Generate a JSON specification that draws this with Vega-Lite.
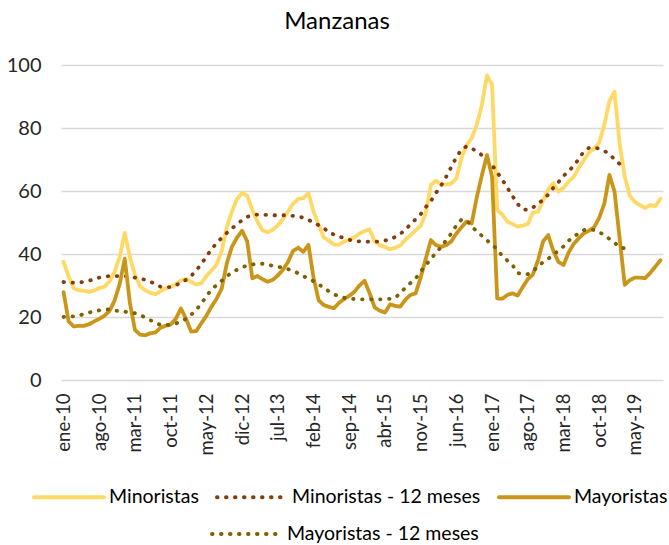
{
"$schema": "https://vega.github.io/schema/vega-lite/v6.json",
"width": 602, "height": 315,
"autosize": {"type": "none"},
"padding": {"left": 61, "top": 65, "right": 6, "bottom": 165},
"background": "white",
"title": {"text": "Manzanas", "font": "Lato", "fontSize": 24, "fontWeight": "normal", "color": "#000000", "anchor": "middle", "frame": "group", "dx": -25, "offset": 21},
"config": {"view": {"stroke": null}, "font": "Lato"},
"data": {"values": [
{"mes":"ene-10","Minoristas":37.5,"Minoristas - 12 meses":31.1,"Mayoristas":27.9,"Mayoristas - 12 meses":20},
{"mes":"feb-10","Minoristas":32.8,"Minoristas - 12 meses":30.9,"Mayoristas":18.6,"Mayoristas - 12 meses":20.1},
{"mes":"mar-10","Minoristas":29.1,"Minoristas - 12 meses":30.9,"Mayoristas":17,"Mayoristas - 12 meses":20.2},
{"mes":"abr-10","Minoristas":28.5,"Minoristas - 12 meses":30.9,"Mayoristas":17.2,"Mayoristas - 12 meses":20.4},
{"mes":"may-10","Minoristas":28.3,"Minoristas - 12 meses":31.2,"Mayoristas":17.2,"Mayoristas - 12 meses":21},
{"mes":"jun-10","Minoristas":28,"Minoristas - 12 meses":31.5,"Mayoristas":17.7,"Mayoristas - 12 meses":21.4},
{"mes":"jul-10","Minoristas":28.4,"Minoristas - 12 meses":32,"Mayoristas":18.6,"Mayoristas - 12 meses":21.8},
{"mes":"ago-10","Minoristas":29.2,"Minoristas - 12 meses":32.5,"Mayoristas":19.4,"Mayoristas - 12 meses":22.1},
{"mes":"sep-10","Minoristas":29.6,"Minoristas - 12 meses":32.8,"Mayoristas":20.4,"Mayoristas - 12 meses":22.4},
{"mes":"oct-10","Minoristas":31.3,"Minoristas - 12 meses":33,"Mayoristas":21.9,"Mayoristas - 12 meses":22.4},
{"mes":"nov-10","Minoristas":34.3,"Minoristas - 12 meses":33,"Mayoristas":25.2,"Mayoristas - 12 meses":22.1},
{"mes":"dic-10","Minoristas":39,"Minoristas - 12 meses":33,"Mayoristas":30.5,"Mayoristas - 12 meses":21.8},
{"mes":"ene-11","Minoristas":46.7,"Minoristas - 12 meses":33,"Mayoristas":38.5,"Mayoristas - 12 meses":21.7},
{"mes":"feb-11","Minoristas":39,"Minoristas - 12 meses":32.8,"Mayoristas":24.5,"Mayoristas - 12 meses":21.4},
{"mes":"mar-11","Minoristas":33.4,"Minoristas - 12 meses":32.5,"Mayoristas":15.9,"Mayoristas - 12 meses":21.2},
{"mes":"abr-11","Minoristas":29.8,"Minoristas - 12 meses":32.2,"Mayoristas":14.4,"Mayoristas - 12 meses":20.6},
{"mes":"may-11","Minoristas":28.5,"Minoristas - 12 meses":31.8,"Mayoristas":14.2,"Mayoristas - 12 meses":19.9},
{"mes":"jun-11","Minoristas":27.7,"Minoristas - 12 meses":31.2,"Mayoristas":14.8,"Mayoristas - 12 meses":19},
{"mes":"jul-11","Minoristas":27.2,"Minoristas - 12 meses":30.5,"Mayoristas":15.1,"Mayoristas - 12 meses":18.2},
{"mes":"ago-11","Minoristas":28.2,"Minoristas - 12 meses":29.6,"Mayoristas":16.6,"Mayoristas - 12 meses":17.5},
{"mes":"sep-11","Minoristas":29.1,"Minoristas - 12 meses":29.5,"Mayoristas":17.2,"Mayoristas - 12 meses":17.4},
{"mes":"oct-11","Minoristas":29.6,"Minoristas - 12 meses":29.5,"Mayoristas":17.6,"Mayoristas - 12 meses":17.6},
{"mes":"nov-11","Minoristas":30.4,"Minoristas - 12 meses":30.1,"Mayoristas":19.4,"Mayoristas - 12 meses":17.9},
{"mes":"dic-11","Minoristas":31.6,"Minoristas - 12 meses":30.9,"Mayoristas":22.7,"Mayoristas - 12 meses":18.6},
{"mes":"ene-12","Minoristas":32.1,"Minoristas - 12 meses":31.8,"Mayoristas":19.5,"Mayoristas - 12 meses":19.4},
{"mes":"feb-12","Minoristas":31.2,"Minoristas - 12 meses":33,"Mayoristas":15.4,"Mayoristas - 12 meses":20.7},
{"mes":"mar-12","Minoristas":30.3,"Minoristas - 12 meses":34.8,"Mayoristas":15.5,"Mayoristas - 12 meses":22.2},
{"mes":"abr-12","Minoristas":30.7,"Minoristas - 12 meses":36.8,"Mayoristas":18,"Mayoristas - 12 meses":24.3},
{"mes":"may-12","Minoristas":33,"Minoristas - 12 meses":39.2,"Mayoristas":20.4,"Mayoristas - 12 meses":26.5},
{"mes":"jun-12","Minoristas":34.8,"Minoristas - 12 meses":41.5,"Mayoristas":23.3,"Mayoristas - 12 meses":28.8},
{"mes":"jul-12","Minoristas":36.6,"Minoristas - 12 meses":43.5,"Mayoristas":25.8,"Mayoristas - 12 meses":30.1},
{"mes":"ago-12","Minoristas":41,"Minoristas - 12 meses":45.1,"Mayoristas":29,"Mayoristas - 12 meses":31.5},
{"mes":"sep-12","Minoristas":48.5,"Minoristas - 12 meses":46.7,"Mayoristas":37,"Mayoristas - 12 meses":32.9},
{"mes":"oct-12","Minoristas":53.5,"Minoristas - 12 meses":48.1,"Mayoristas":42.3,"Mayoristas - 12 meses":34.2},
{"mes":"nov-12","Minoristas":57.5,"Minoristas - 12 meses":49.5,"Mayoristas":45.2,"Mayoristas - 12 meses":35},
{"mes":"dic-12","Minoristas":59.4,"Minoristas - 12 meses":50.7,"Mayoristas":47.4,"Mayoristas - 12 meses":35.7},
{"mes":"ene-13","Minoristas":58.5,"Minoristas - 12 meses":51.8,"Mayoristas":44,"Mayoristas - 12 meses":36.4},
{"mes":"feb-13","Minoristas":54,"Minoristas - 12 meses":52.4,"Mayoristas":32.3,"Mayoristas - 12 meses":36.7},
{"mes":"mar-13","Minoristas":50.3,"Minoristas - 12 meses":52.5,"Mayoristas":33,"Mayoristas - 12 meses":36.9},
{"mes":"abr-13","Minoristas":47.5,"Minoristas - 12 meses":52.5,"Mayoristas":32,"Mayoristas - 12 meses":36.9},
{"mes":"may-13","Minoristas":46.9,"Minoristas - 12 meses":52.4,"Mayoristas":31.2,"Mayoristas - 12 meses":36.7},
{"mes":"jun-13","Minoristas":47.7,"Minoristas - 12 meses":52.3,"Mayoristas":31.8,"Mayoristas - 12 meses":36.2},
{"mes":"jul-13","Minoristas":49.1,"Minoristas - 12 meses":52.3,"Mayoristas":33.2,"Mayoristas - 12 meses":35.9},
{"mes":"ago-13","Minoristas":51.1,"Minoristas - 12 meses":52.3,"Mayoristas":35,"Mayoristas - 12 meses":35.7},
{"mes":"sep-13","Minoristas":53.5,"Minoristas - 12 meses":52.3,"Mayoristas":37.5,"Mayoristas - 12 meses":35.2},
{"mes":"oct-13","Minoristas":56,"Minoristas - 12 meses":52.1,"Mayoristas":41,"Mayoristas - 12 meses":34.6},
{"mes":"nov-13","Minoristas":57.5,"Minoristas - 12 meses":51.9,"Mayoristas":42,"Mayoristas - 12 meses":33.9},
{"mes":"dic-13","Minoristas":57.7,"Minoristas - 12 meses":51.5,"Mayoristas":40.7,"Mayoristas - 12 meses":33},
{"mes":"ene-14","Minoristas":59.3,"Minoristas - 12 meses":50.8,"Mayoristas":42.9,"Mayoristas - 12 meses":32.2},
{"mes":"feb-14","Minoristas":53.5,"Minoristas - 12 meses":50.1,"Mayoristas":32.5,"Mayoristas - 12 meses":31.4},
{"mes":"mar-14","Minoristas":49.3,"Minoristas - 12 meses":49.1,"Mayoristas":25.3,"Mayoristas - 12 meses":30.4},
{"mes":"abr-14","Minoristas":45.3,"Minoristas - 12 meses":48.3,"Mayoristas":23.8,"Mayoristas - 12 meses":29.2},
{"mes":"may-14","Minoristas":44.2,"Minoristas - 12 meses":46.8,"Mayoristas":23.2,"Mayoristas - 12 meses":28.2},
{"mes":"jun-14","Minoristas":43,"Minoristas - 12 meses":46.2,"Mayoristas":22.8,"Mayoristas - 12 meses":27.2},
{"mes":"jul-14","Minoristas":43,"Minoristas - 12 meses":45.6,"Mayoristas":24.5,"Mayoristas - 12 meses":26.6},
{"mes":"ago-14","Minoristas":43.9,"Minoristas - 12 meses":45,"Mayoristas":25.7,"Mayoristas - 12 meses":26.1},
{"mes":"sep-14","Minoristas":44.6,"Minoristas - 12 meses":44.5,"Mayoristas":26.7,"Mayoristas - 12 meses":25.8},
{"mes":"oct-14","Minoristas":45.3,"Minoristas - 12 meses":44.2,"Mayoristas":28,"Mayoristas - 12 meses":25.7},
{"mes":"nov-14","Minoristas":46.5,"Minoristas - 12 meses":44,"Mayoristas":30,"Mayoristas - 12 meses":25.6},
{"mes":"dic-14","Minoristas":47.3,"Minoristas - 12 meses":43.9,"Mayoristas":31.5,"Mayoristas - 12 meses":25.6},
{"mes":"ene-15","Minoristas":47.8,"Minoristas - 12 meses":43.9,"Mayoristas":27.5,"Mayoristas - 12 meses":25.6},
{"mes":"feb-15","Minoristas":44,"Minoristas - 12 meses":43.9,"Mayoristas":23,"Mayoristas - 12 meses":25.6},
{"mes":"mar-15","Minoristas":42.8,"Minoristas - 12 meses":44,"Mayoristas":22,"Mayoristas - 12 meses":25.6},
{"mes":"abr-15","Minoristas":42.2,"Minoristas - 12 meses":44.3,"Mayoristas":21.4,"Mayoristas - 12 meses":25.6},
{"mes":"may-15","Minoristas":41.5,"Minoristas - 12 meses":44.6,"Mayoristas":24,"Mayoristas - 12 meses":25.8},
{"mes":"jun-15","Minoristas":42,"Minoristas - 12 meses":45.4,"Mayoristas":23.5,"Mayoristas - 12 meses":26.1},
{"mes":"jul-15","Minoristas":42.7,"Minoristas - 12 meses":46.4,"Mayoristas":23.3,"Mayoristas - 12 meses":27.6},
{"mes":"ago-15","Minoristas":44.5,"Minoristas - 12 meses":47.6,"Mayoristas":25.5,"Mayoristas - 12 meses":29.3},
{"mes":"sep-15","Minoristas":46,"Minoristas - 12 meses":49.5,"Mayoristas":27,"Mayoristas - 12 meses":30.8},
{"mes":"oct-15","Minoristas":47.5,"Minoristas - 12 meses":51,"Mayoristas":27.5,"Mayoristas - 12 meses":32.2},
{"mes":"nov-15","Minoristas":48.9,"Minoristas - 12 meses":52.6,"Mayoristas":32.5,"Mayoristas - 12 meses":34.4},
{"mes":"dic-15","Minoristas":53,"Minoristas - 12 meses":54.9,"Mayoristas":38.5,"Mayoristas - 12 meses":36.5},
{"mes":"ene-16","Minoristas":61.9,"Minoristas - 12 meses":56.8,"Mayoristas":44.4,"Mayoristas - 12 meses":38.4},
{"mes":"feb-16","Minoristas":63.3,"Minoristas - 12 meses":59.4,"Mayoristas":42.8,"Mayoristas - 12 meses":40.4},
{"mes":"mar-16","Minoristas":62,"Minoristas - 12 meses":61.7,"Mayoristas":42.3,"Mayoristas - 12 meses":42.2},
{"mes":"abr-16","Minoristas":62,"Minoristas - 12 meses":64.5,"Mayoristas":42.8,"Mayoristas - 12 meses":44.4},
{"mes":"may-16","Minoristas":62.4,"Minoristas - 12 meses":67.6,"Mayoristas":44,"Mayoristas - 12 meses":46.5},
{"mes":"jun-16","Minoristas":64,"Minoristas - 12 meses":70.7,"Mayoristas":46.5,"Mayoristas - 12 meses":49.1},
{"mes":"jul-16","Minoristas":70.5,"Minoristas - 12 meses":73.2,"Mayoristas":48.5,"Mayoristas - 12 meses":50.9},
{"mes":"ago-16","Minoristas":74.5,"Minoristas - 12 meses":74.2,"Mayoristas":50.3,"Mayoristas - 12 meses":50.7},
{"mes":"sep-16","Minoristas":76.7,"Minoristas - 12 meses":73.5,"Mayoristas":49.7,"Mayoristas - 12 meses":48.7},
{"mes":"oct-16","Minoristas":81,"Minoristas - 12 meses":72.6,"Mayoristas":58,"Mayoristas - 12 meses":47.2},
{"mes":"nov-16","Minoristas":87.3,"Minoristas - 12 meses":71.4,"Mayoristas":65,"Mayoristas - 12 meses":45.8},
{"mes":"dic-16","Minoristas":96.7,"Minoristas - 12 meses":70,"Mayoristas":71.4,"Mayoristas - 12 meses":44.3},
{"mes":"ene-17","Minoristas":93.7,"Minoristas - 12 meses":68.2,"Mayoristas":64.5,"Mayoristas - 12 meses":43},
{"mes":"feb-17","Minoristas":54,"Minoristas - 12 meses":65.9,"Mayoristas":25.9,"Mayoristas - 12 meses":41.5},
{"mes":"mar-17","Minoristas":52.5,"Minoristas - 12 meses":63.6,"Mayoristas":25.8,"Mayoristas - 12 meses":39.4},
{"mes":"abr-17","Minoristas":50.3,"Minoristas - 12 meses":61,"Mayoristas":27,"Mayoristas - 12 meses":37.9},
{"mes":"may-17","Minoristas":49.5,"Minoristas - 12 meses":58.4,"Mayoristas":27.5,"Mayoristas - 12 meses":36.5},
{"mes":"jun-17","Minoristas":48.7,"Minoristas - 12 meses":55.9,"Mayoristas":26.8,"Mayoristas - 12 meses":34},
{"mes":"jul-17","Minoristas":49,"Minoristas - 12 meses":54.2,"Mayoristas":29.5,"Mayoristas - 12 meses":33.5},
{"mes":"ago-17","Minoristas":49.5,"Minoristas - 12 meses":54,"Mayoristas":32,"Mayoristas - 12 meses":33.6},
{"mes":"sep-17","Minoristas":53.2,"Minoristas - 12 meses":54.7,"Mayoristas":33.5,"Mayoristas - 12 meses":34.6},
{"mes":"oct-17","Minoristas":53.4,"Minoristas - 12 meses":56.1,"Mayoristas":38,"Mayoristas - 12 meses":35.9},
{"mes":"nov-17","Minoristas":57,"Minoristas - 12 meses":57.1,"Mayoristas":44,"Mayoristas - 12 meses":37.5},
{"mes":"dic-17","Minoristas":60.5,"Minoristas - 12 meses":58.9,"Mayoristas":46,"Mayoristas - 12 meses":38.5},
{"mes":"ene-18","Minoristas":62.5,"Minoristas - 12 meses":61,"Mayoristas":41,"Mayoristas - 12 meses":39.7},
{"mes":"feb-18","Minoristas":59.8,"Minoristas - 12 meses":62.8,"Mayoristas":37.5,"Mayoristas - 12 meses":41.1},
{"mes":"mar-18","Minoristas":61,"Minoristas - 12 meses":64.8,"Mayoristas":36.5,"Mayoristas - 12 meses":42.4},
{"mes":"abr-18","Minoristas":63,"Minoristas - 12 meses":66.3,"Mayoristas":40.5,"Mayoristas - 12 meses":44.2},
{"mes":"may-18","Minoristas":64.5,"Minoristas - 12 meses":68,"Mayoristas":43.2,"Mayoristas - 12 meses":45.5},
{"mes":"jun-18","Minoristas":67.4,"Minoristas - 12 meses":70.2,"Mayoristas":45,"Mayoristas - 12 meses":46.6},
{"mes":"jul-18","Minoristas":69.8,"Minoristas - 12 meses":72.6,"Mayoristas":46.6,"Mayoristas - 12 meses":47.6},
{"mes":"ago-18","Minoristas":72.2,"Minoristas - 12 meses":73.7,"Mayoristas":47.4,"Mayoristas - 12 meses":47.8},
{"mes":"sep-18","Minoristas":73.5,"Minoristas - 12 meses":73.8,"Mayoristas":48.5,"Mayoristas - 12 meses":47.6},
{"mes":"oct-18","Minoristas":75.3,"Minoristas - 12 meses":73.4,"Mayoristas":51.5,"Mayoristas - 12 meses":47},
{"mes":"nov-18","Minoristas":81,"Minoristas - 12 meses":72.7,"Mayoristas":56,"Mayoristas - 12 meses":45.9},
{"mes":"dic-18","Minoristas":88.5,"Minoristas - 12 meses":71.8,"Mayoristas":65.1,"Mayoristas - 12 meses":44.8},
{"mes":"ene-19","Minoristas":91.5,"Minoristas - 12 meses":70,"Mayoristas":59.8,"Mayoristas - 12 meses":43.6},
{"mes":"feb-19","Minoristas":75,"Minoristas - 12 meses":68.6,"Mayoristas":45,"Mayoristas - 12 meses":42.1},
{"mes":"mar-19","Minoristas":64.6,"Minoristas - 12 meses":67.9,"Mayoristas":30.2,"Mayoristas - 12 meses":41.8},
{"mes":"abr-19","Minoristas":58.5,"Mayoristas":31.7},
{"mes":"may-19","Minoristas":56.5,"Mayoristas":32.5},
{"mes":"jun-19","Minoristas":55.5,"Mayoristas":32.5},
{"mes":"jul-19","Minoristas":54.6,"Mayoristas":32.3},
{"mes":"ago-19","Minoristas":55.5,"Mayoristas":34},
{"mes":"sep-19","Minoristas":55.2,"Mayoristas":36},
{"mes":"oct-19","Minoristas":57.5,"Mayoristas":38}
]},
"transform": [{"fold": ["Minoristas", "Minoristas - 12 meses", "Mayoristas", "Mayoristas - 12 meses"], "as": ["serie", "valor"]}],
"mark": {"type": "line", "strokeWidth": 3.8, "strokeCap": "round", "strokeJoin": "round"},
"encoding": {
  "x": {"field": "mes", "type": "ordinal", "sort": null, "scale": {"type": "point", "padding": 0.5},
    "axis": {"values": ["ene-10","ago-10","mar-11","oct-11","may-12","dic-12","jul-13","feb-14","sep-14","abr-15","nov-15","jun-16","ene-17","ago-17","mar-18","oct-18","may-19"],
      "labelAngle": -90, "labelFont": "Lato", "labelFontSize": 18.5, "labelColor": "#262626", "labelPadding": 13, "ticks": false, "domain": false, "grid": false, "title": null}},
  "y": {"field": "valor", "type": "quantitative", "scale": {"domain": [0, 100]},
    "axis": {"values": [0, 20, 40, 60, 80, 100], "labelFont": "Lato", "labelFontSize": 20, "labelColor": "#262626", "labelPadding": 20, "ticks": false, "domain": false, "gridColor": "#D9D9D9", "gridWidth": 1.3, "title": null}},
  "color": {"field": "serie", "type": "nominal",
    "scale": {"domain": ["Minoristas", "Minoristas - 12 meses", "Mayoristas", "Mayoristas - 12 meses"], "range": ["#FFD966", "#843C0C", "#C9961A", "#7F6000"]},
    "legend": {"title": null, "values": ["Minoristas", "Minoristas - 12 meses", "Mayoristas"], "orient": "none", "legendX": -29, "legendY": 395, "direction": "horizontal", "symbolType": "stroke", "symbolSize": 4900, "symbolStrokeWidth": 4, "labelFont": "Lato", "labelFontSize": 19.5, "labelLimit": 400, "labelColor": "#000000", "labelOffset": 3, "columnPadding": 10,
      "encode": {"symbols": {"update": {"strokeCap": {"value": "round"}, "strokeDash": {"signal": "datum.value === 'Minoristas - 12 meses' ? [0.5, 8.5] : [1, 0]"}}}}}},
  "strokeDash": {"field": "serie", "type": "nominal",
    "scale": {"domain": ["Minoristas", "Mayoristas", "Minoristas - 12 meses", "Mayoristas - 12 meses"], "range": [[1, 0], [1, 0], [0.5, 8.5], [0.5, 8.5]]},
    "legend": {"title": null, "values": ["Mayoristas - 12 meses"], "orient": "none", "legendX": 149, "legendY": 432, "direction": "horizontal", "symbolType": "stroke", "symbolSize": 4900, "symbolStrokeWidth": 4, "symbolStrokeColor": "#7F6000", "labelFont": "Lato", "labelFontSize": 19.5, "labelLimit": 400, "labelColor": "#000000", "labelOffset": 3,
      "encode": {"symbols": {"update": {"strokeCap": {"value": "round"}}}}}}
}
}
